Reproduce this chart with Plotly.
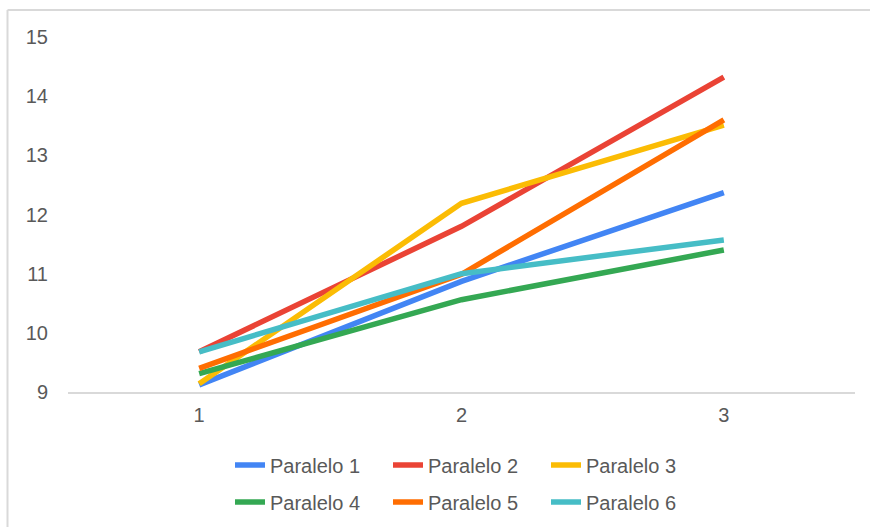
import plotly.graph_objects as go

# Measurement rounds on the x axis
rounds = [1, 2, 3]

# One series per parallel group
series_names = ["Paralelo 1", "Paralelo 2", "Paralelo 3",
                "Paralelo 4", "Paralelo 5", "Paralelo 6"]
paralelo_1 = [9.12, 10.87, 12.37]
paralelo_2 = [9.68, 11.80, 14.32]
paralelo_3 = [9.14, 12.19, 13.51]
paralelo_4 = [9.31, 10.56, 11.40]
paralelo_5 = [9.40, 10.99, 13.60]
paralelo_6 = [9.68, 11.00, 11.57]

y_ticks = [9, 10, 11, 12, 13, 14, 15]

values = [paralelo_1, paralelo_2, paralelo_3, paralelo_4, paralelo_5, paralelo_6]
colors = ["#4285F4", "#EA4335", "#FBBC04", "#34A853", "#FF6D01", "#46BDC6"]
legend_ids = ["legend", "legend", "legend", "legend2", "legend2", "legend2"]

W, H = 870, 527
L, R, T, B = 68, 15, 37, 135
pw, ph = W - L - R, H - T - B

fig = go.Figure()
for name, vals, col, lg in zip(series_names, values, colors, legend_ids):
    fig.add_trace(go.Scatter(
        x=rounds, y=vals, name=name, mode="lines",
        line=dict(color=col, width=5.5),
        legend=lg,
    ))

text_gray = "#595959"
font = dict(family="Liberation Sans, Arial, sans-serif", size=20, color=text_gray)
legend_font = dict(family="Liberation Sans, Arial, sans-serif", size=20, color=text_gray)


def px_x(px):
    return (px - L) / pw


def px_y(py):
    return (H - B - py) / ph


legend_common = dict(
    orientation="h", xanchor="left", yanchor="middle",
    entrywidth=113, entrywidthmode="pixels",
    font=legend_font, bgcolor="rgba(0,0,0,0)",
    itemclick=False, itemdoubleclick=False,
)

fig.update_layout(
    width=W, height=H,
    margin=dict(l=L, r=R, t=T, b=B, autoexpand=False),
    paper_bgcolor="white", plot_bgcolor="white",
    showlegend=True,
    legend=dict(x=px_x(230), y=px_y(465), **legend_common),
    legend2=dict(x=px_x(230), y=px_y(502), **legend_common),
    xaxis=dict(
        range=[0.5, 3.5], tickvals=rounds, ticktext=[str(r) for r in rounds],
        showgrid=False, zeroline=False,
        showline=True, linecolor="#d9d9d9", linewidth=2,
        tickfont=font, ticks="", ticklabelstandoff=4,
    ),
    yaxis=dict(
        range=[9, 15], tickvals=y_ticks,
        showgrid=False, zeroline=False, showline=False,
        tickfont=font, ticks="", ticklabelstandoff=19,
    ),
    shapes=[
        dict(type="line", xref="paper", yref="paper",
             x0=px_x(7.5), x1=px_x(7.5), y0=px_y(10), y1=px_y(H + 5),
             line=dict(color="#d9d9d9", width=2)),
        dict(type="line", xref="paper", yref="paper",
             x0=px_x(7.5), x1=px_x(W + 5), y0=px_y(10), y1=px_y(10),
             line=dict(color="#d9d9d9", width=2)),
    ],
)

fig.write_html("out.html")
